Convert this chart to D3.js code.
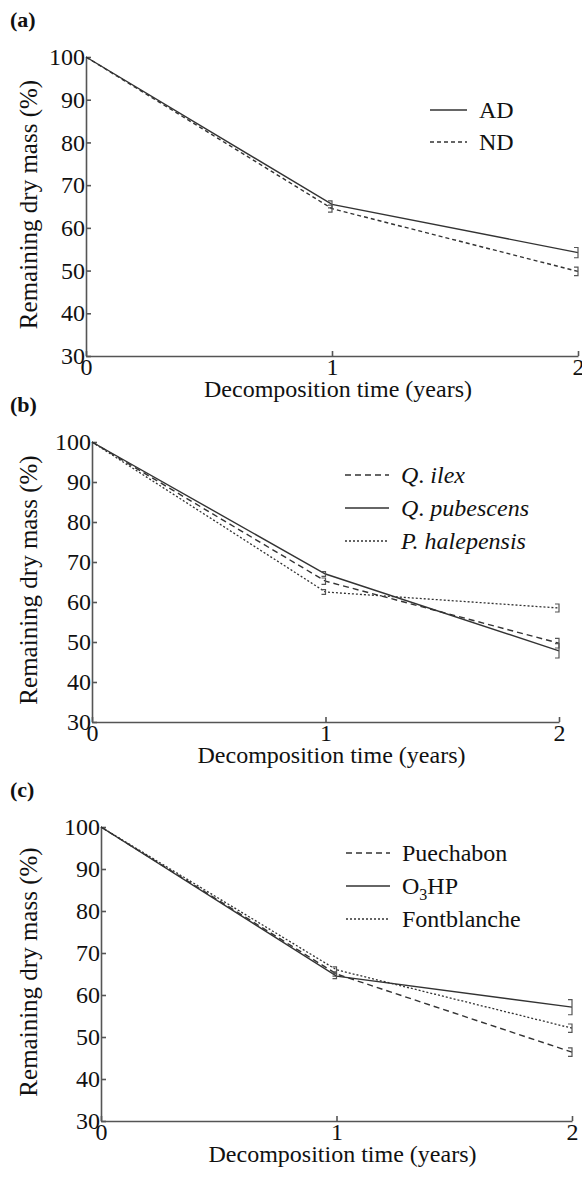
<!DOCTYPE html>
<html>
<head>
<meta charset="utf-8">
<script src="https://cdn.jsdelivr.net/npm/d3@7"></script>
<style>
  body { margin: 0; background: #fff; }
  .axis path, .axis line { stroke: #555; stroke-width: 1.6; }
</style>
</head>
<body>
<svg width="582" height="1187" font-family="'Liberation Serif', 'Times New Roman', Times, 'DejaVu Serif', serif"></svg>
<script>
// decomposition time (years) and y ticks
const years = [0, 1, 2];
const massTicks = [30, 40, 50, 60, 70, 80, 90, 100];

// panel (a): litter origin
const adMass = [100, 65.5, 54.2];
const adErr = [0, 0.8, 1.2];
const ndMass = [100, 64.5, 49.8];
const ndErr = [0, 0.8, 1.0];

// panel (b): species
const ilexMass = [100, 65.2, 49.7];
const ilexErr = [0, 0.8, 1.2];
const pubescensMass = [100, 67.0, 47.8];
const pubescensErr = [0, 0.6, 1.8];
const halepensisMass = [100, 62.5, 58.5];
const halepensisErr = [0, 0.6, 1.0];

// panel (c): sites
const puechabonMass = [100, 65.0, 46.4];
const puechabonErr = [0, 0.5, 1.0];
const o3hpMass = [100, 64.5, 57.1];
const o3hpErr = [0, 0.6, 1.8];
const fontblancheMass = [100, 66.0, 52.1];
const fontblancheErr = [0, 0.7, 1.0];

const FONT = "'Liberation Serif', 'Times New Roman', Times, 'DejaVu Serif', serif";
const DASH = { solid: null, dashed: "6,4", fine: "4,3", dotted: "2,2" };

const svg = d3.select("svg");

function drawPanel(p) {
  const x = d3.scaleLinear().domain([0, 2]).range([p.left, p.right]);
  const y = d3.scaleLinear().domain([30, 100]).range([p.bottom, p.top]);
  const g = svg.append("g");

  g.append("g")
    .attr("class", "axis")
    .attr("transform", "translate(0," + p.bottom + ")")
    .call(d3.axisBottom(x).tickValues(years).tickFormat(d3.format("d")).tickSize(-5).tickSizeOuter(0).tickPadding(2))
    .attr("font-family", FONT).attr("font-size", 24)
    .call(a => a.selectAll("text").attr("fill", "#111"));
  g.append("g")
    .attr("class", "axis")
    .attr("transform", "translate(" + p.left + ",0)")
    .call(d3.axisLeft(y).tickValues(massTicks).tickSize(-5).tickSizeOuter(0).tickPadding(1))
    .attr("font-family", FONT).attr("font-size", 24)
    .call(a => a.selectAll("text").attr("fill", "#111"));

  const line = d3.line().x((d, i) => x(years[i])).y(d => y(d));

  p.series.forEach(s => {
    g.append("path")
      .datum(s.values)
      .attr("fill", "none")
      .attr("stroke", "#333")
      .attr("stroke-width", s.dash === DASH.dotted ? 1.3 : 1.4)
      .attr("stroke-dasharray", s.dash)
      .attr("d", line);

    // error bars with caps to the left
    s.values.forEach((v, i) => {
      if (!s.err[i]) return;
      const cx = x(years[i]), y0 = y(v - s.err[i]), y1 = y(v + s.err[i]);
      g.append("path")
        .attr("fill", "none")
        .attr("stroke", "#555")
        .attr("stroke-width", 1.2)
        .attr("d", "M" + (cx - 4) + "," + y1 + "H" + cx + "V" + y0 + "H" + (cx - 4));
    });
  });

  // legend
  p.series.forEach((s, i) => {
    const ly = p.legend.y + i * p.legend.step;
    g.append("line")
      .attr("x1", p.legend.x).attr("x2", p.legend.x + p.legend.len)
      .attr("y1", ly).attr("y2", ly)
      .attr("stroke", "#333").attr("stroke-width", 1.5)
      .attr("stroke-dasharray", s.dash);
    const t = g.append("text")
      .attr("x", p.legend.x + p.legend.len + 12)
      .attr("y", ly + 8)
      .attr("fill", "#111")
      .attr("font-size", 24);
    s.label.forEach(part => {
      t.append("tspan")
        .attr("font-style", part.italic ? "italic" : null)
        .attr("font-size", part.sub ? 16 : null)
        .attr("dy", part.sub ? 6 : (part.after ? -6 : null))
        .text(part.t);
    });
  });

  // titles
  g.append("text")
    .attr("x", (p.left + p.right) / 2 + 6)
    .attr("y", p.bottom + 41)
    .attr("text-anchor", "middle")
    .attr("fill", "#111")
    .attr("font-size", 24)
    .text("Decomposition time (years)");
  g.append("text")
    .attr("transform", "translate(" + 37 + "," + ((p.top + p.bottom) / 2 - 2) + ") rotate(-90)")
    .attr("text-anchor", "middle")
    .attr("fill", "#111")
    .attr("font-size", 25)
    .text("Remaining dry mass (%)");
  g.append("text")
    .attr("x", 10)
    .attr("y", p.top - 30)
    .attr("fill", "#111")
    .attr("font-size", 22)
    .attr("font-weight", "bold")
    .text(p.tag);
}

drawPanel({
  tag: "(a)", left: 86, right: 578, top: 57, bottom: 356,
  legend: { x: 430, y: 110, step: 32, len: 37 },
  series: [
    { label: [{ t: "AD" }], values: adMass, err: adErr, dash: DASH.solid },
    { label: [{ t: "ND" }], values: ndMass, err: ndErr, dash: DASH.fine }
  ]
});

drawPanel({
  tag: "(b)", left: 92, right: 559, top: 442, bottom: 722,
  legend: { x: 345, y: 475, step: 33, len: 44 },
  series: [
    { label: [{ t: "Q", italic: true }, { t: ". " }, { t: "ilex", italic: true }], values: ilexMass, err: ilexErr, dash: DASH.dashed },
    { label: [{ t: "Q", italic: true }, { t: ". " }, { t: "pubescens", italic: true }], values: pubescensMass, err: pubescensErr, dash: DASH.solid },
    { label: [{ t: "P. halepensis", italic: true }], values: halepensisMass, err: halepensisErr, dash: DASH.dotted }
  ]
});

drawPanel({
  tag: "(c)", left: 101, right: 572, top: 827, bottom: 1121,
  legend: { x: 346, y: 853, step: 33, len: 44 },
  series: [
    { label: [{ t: "Puechabon" }], values: puechabonMass, err: puechabonErr, dash: DASH.dashed },
    { label: [{ t: "O" }, { t: "3", sub: true }, { t: "HP", after: true }], values: o3hpMass, err: o3hpErr, dash: DASH.solid },
    { label: [{ t: "Fontblanche" }], values: fontblancheMass, err: fontblancheErr, dash: DASH.dotted }
  ]
});
</script>
</body>
</html>
